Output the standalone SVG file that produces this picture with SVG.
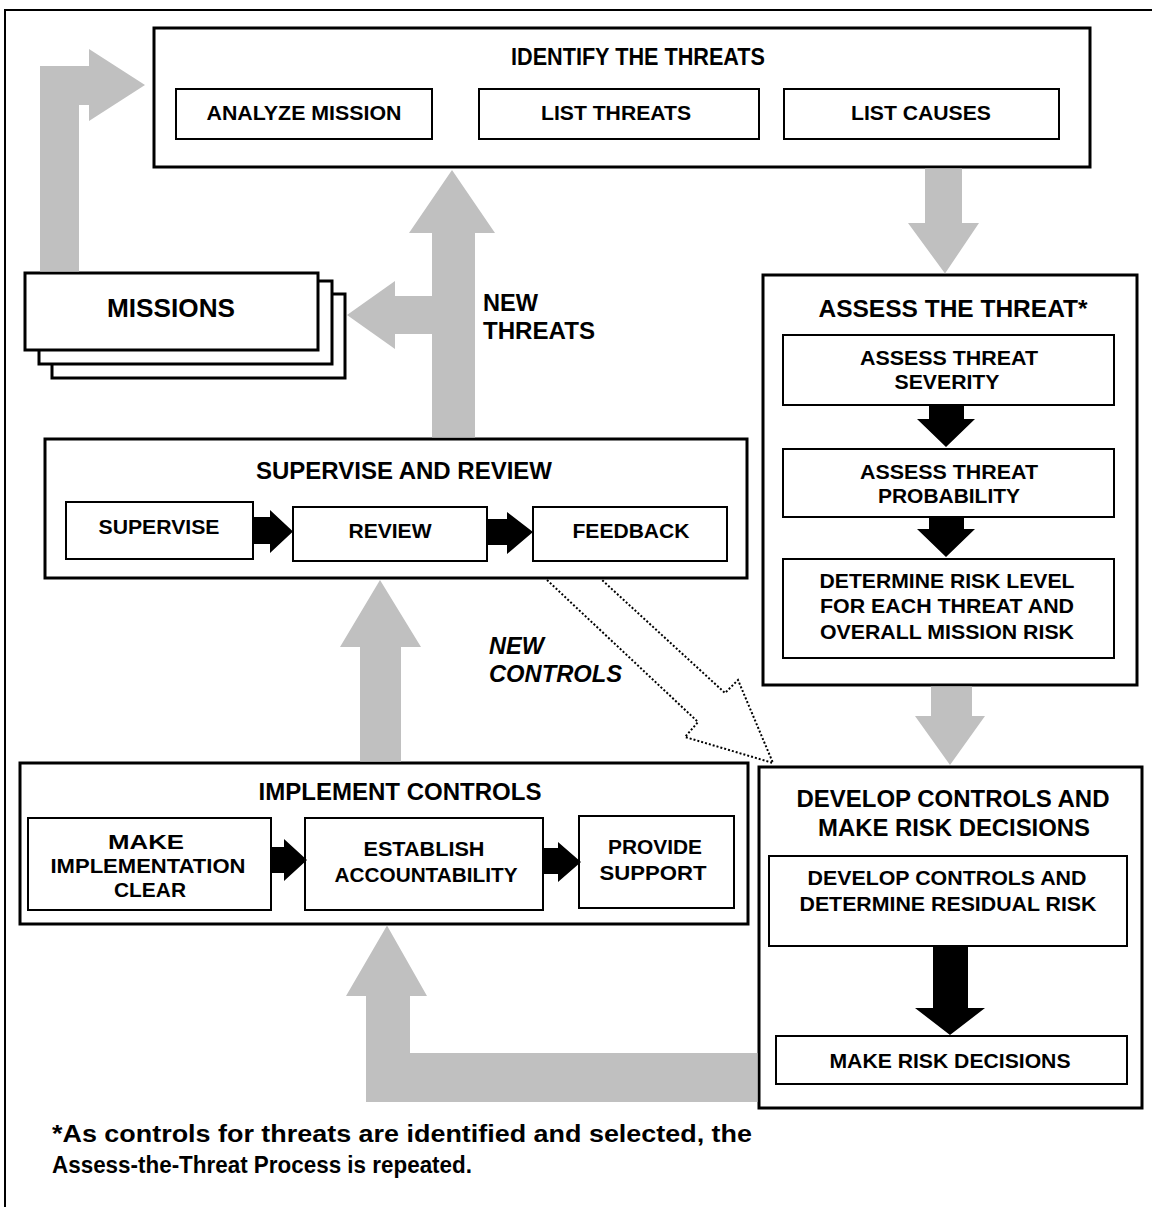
<svg xmlns="http://www.w3.org/2000/svg" width="1152" height="1207" viewBox="0 0 1152 1207">
<style>
text{font-family:"Liberation Sans",Arial,Helvetica,sans-serif;font-weight:bold;fill:#000}
.t{font-size:23.5px;text-anchor:middle}
.s{font-size:21px;text-anchor:middle}
.box{fill:#fff;stroke:#000;stroke-width:3}
.sub{fill:#fff;stroke:#000;stroke-width:2}
.gray{fill:#c0c0c0;stroke:none}
.blk{fill:#000;stroke:none}
.dot{fill:none;stroke:#000;stroke-width:2;stroke-dasharray:2 2}
</style>
<rect x="0" y="0" width="1152" height="1207" fill="#fff"/>
<path d="M5,1207 V10 H1152" fill="none" stroke="#000" stroke-width="2"/>

<g id="identify">
  <rect class="box" x="154" y="28" width="936" height="139"/>
  <text class="t" x="638" y="65" textLength="254" lengthAdjust="spacingAndGlyphs">IDENTIFY THE THREATS</text>
  <rect class="sub" x="176" y="89" width="256" height="50"/>
  <text class="s" x="304" y="120" textLength="195" lengthAdjust="spacingAndGlyphs">ANALYZE MISSION</text>
  <rect class="sub" x="479" y="89" width="280" height="50"/>
  <text class="s" x="616" y="120" textLength="150" lengthAdjust="spacingAndGlyphs">LIST THREATS</text>
  <rect class="sub" x="784" y="89" width="275" height="50"/>
  <text class="s" x="921" y="120" textLength="140" lengthAdjust="spacingAndGlyphs">LIST CAUSES</text>
</g>

<g id="missions">
  <rect class="box" x="52" y="294" width="293" height="84"/>
  <rect class="box" x="39" y="281" width="293" height="83"/>
  <rect class="box" x="25" y="273" width="293" height="77"/>
  <text x="171" y="317" font-size="26" text-anchor="middle" textLength="128" lengthAdjust="spacingAndGlyphs">MISSIONS</text>
</g>

<g id="supervise">
  <rect class="box" x="45" y="439" width="702" height="139"/>
  <text class="t" x="404" y="479" textLength="296" lengthAdjust="spacingAndGlyphs">SUPERVISE AND REVIEW</text>
  <rect class="sub" x="66" y="502" width="187" height="57"/>
  <text class="s" x="159" y="534" textLength="121" lengthAdjust="spacingAndGlyphs">SUPERVISE</text>
  <rect class="sub" x="293" y="507" width="194" height="54"/>
  <text class="s" x="390" y="538" textLength="83" lengthAdjust="spacingAndGlyphs">REVIEW</text>
  <rect class="sub" x="533" y="507" width="194" height="54"/>
  <text class="s" x="631" y="538" textLength="117" lengthAdjust="spacingAndGlyphs">FEEDBACK</text>
</g>

<g id="assess">
  <rect class="box" x="763" y="275" width="374" height="410"/>
  <text class="t" x="953" y="317" textLength="269" lengthAdjust="spacingAndGlyphs">ASSESS THE THREAT*</text>
  <rect class="sub" x="783" y="335" width="331" height="70"/>
  <text class="s" x="949" y="365" textLength="178" lengthAdjust="spacingAndGlyphs">ASSESS THREAT</text>
  <text class="s" x="947" y="389" textLength="105" lengthAdjust="spacingAndGlyphs">SEVERITY</text>
  <rect class="sub" x="783" y="449" width="331" height="68"/>
  <text class="s" x="949" y="479" textLength="178" lengthAdjust="spacingAndGlyphs">ASSESS THREAT</text>
  <text class="s" x="949" y="503" textLength="142" lengthAdjust="spacingAndGlyphs">PROBABILITY</text>
  <rect class="sub" x="783" y="559" width="331" height="99"/>
  <text class="s" x="947" y="588" textLength="255" lengthAdjust="spacingAndGlyphs">DETERMINE RISK LEVEL</text>
  <text class="s" x="947" y="613" textLength="254" lengthAdjust="spacingAndGlyphs">FOR EACH THREAT AND</text>
  <text class="s" x="947" y="639" textLength="254" lengthAdjust="spacingAndGlyphs">OVERALL MISSION RISK</text>
</g>

<g id="develop">
  <rect class="box" x="759" y="767" width="383" height="341"/>
  <text class="t" x="953" y="807" textLength="313" lengthAdjust="spacingAndGlyphs">DEVELOP CONTROLS AND</text>
  <text class="t" x="954" y="836" textLength="272" lengthAdjust="spacingAndGlyphs">MAKE RISK DECISIONS</text>
  <rect class="sub" x="769" y="856" width="358" height="90"/>
  <text class="s" x="947" y="885" textLength="279" lengthAdjust="spacingAndGlyphs">DEVELOP CONTROLS AND</text>
  <text class="s" x="948" y="911" textLength="297" lengthAdjust="spacingAndGlyphs">DETERMINE RESIDUAL RISK</text>
  <rect class="sub" x="776" y="1036" width="351" height="48"/>
  <text class="s" x="950" y="1068" textLength="241" lengthAdjust="spacingAndGlyphs">MAKE RISK DECISIONS</text>
</g>

<g id="implement">
  <rect class="box" x="20" y="763" width="728" height="161"/>
  <text class="t" x="400" y="800" textLength="283" lengthAdjust="spacingAndGlyphs">IMPLEMENT CONTROLS</text>
  <rect class="sub" x="28" y="818" width="243" height="92"/>
  <text class="s" x="146" y="849" textLength="76" lengthAdjust="spacingAndGlyphs">MAKE</text>
  <text class="s" x="148" y="873" textLength="195" lengthAdjust="spacingAndGlyphs">IMPLEMENTATION</text>
  <text class="s" x="150" y="897" textLength="72" lengthAdjust="spacingAndGlyphs">CLEAR</text>
  <rect class="sub" x="305" y="818" width="238" height="92"/>
  <text class="s" x="424" y="856" textLength="121" lengthAdjust="spacingAndGlyphs">ESTABLISH</text>
  <text class="s" x="426" y="882" textLength="183" lengthAdjust="spacingAndGlyphs">ACCOUNTABILITY</text>
  <rect class="sub" x="579" y="816" width="155" height="92"/>
  <text class="s" x="655" y="854" textLength="94" lengthAdjust="spacingAndGlyphs">PROVIDE</text>
  <text class="s" x="653" y="880" textLength="107" lengthAdjust="spacingAndGlyphs">SUPPORT</text>
</g>

<g id="connectors">
  <polygon class="gray" points="40,271.5 40,66 89,66 89,49 145,85 89,121 89,105 79,105 79,271.5"/>
  <polygon class="gray" points="432,437.5 432,334 395,334 395,349 347,315 395,281 395,296 432,296 432,233 409,233 452,170 495,233 475,233 475,437.5"/>
  <polygon class="gray" points="925,168.5 962,168.5 962,223 979,223 945,273.5 908,223 925,223"/>
  <polygon class="gray" points="931,686.5 972,686.5 972,716 985,716 950,765 915,716 931,716"/>
  <polygon class="gray" points="360,761.5 360,647 340,647 380,580 421,647 401,647 401,761.5"/>
  <polygon class="gray" points="757.5,1053 410,1053 410,996 427,996 387,925.5 346,996 366,996 366,1102 757.5,1102"/>
  <polygon class="blk" points="253,517 270,517 270,510 293,531.5 270,553 270,544 253,544"/>
  <polygon class="blk" points="487,519 507,519 507,512 533,532 507,554 507,545 487,545"/>
  <polygon class="blk" points="929,405 964,405 964,419 975,419 946,447 917,419 929,419"/>
  <polygon class="blk" points="929,517 964,517 964,529 975,529 946,557 917,529 929,529"/>
  <polygon class="blk" points="933,946 968,946 968,1008 985,1008 950,1035 915,1008 933,1008"/>
  <polygon class="blk" points="272,847 284,847 284,839 307,860 284,881 284,873 272,873"/>
  <polygon class="blk" points="544,848 558,848 558,842 581,862 558,882 558,874 544,874"/>
  <polyline class="dot" points="547,580 698,722 685,737 773,763 738,680 725,693 602,580"/>
  <text x="483" y="311" font-size="23" textLength="55" lengthAdjust="spacingAndGlyphs">NEW</text>
  <text x="483" y="339" font-size="23" textLength="112" lengthAdjust="spacingAndGlyphs">THREATS</text>
  <text x="489" y="654" font-size="23" font-style="italic" textLength="55" lengthAdjust="spacingAndGlyphs">NEW</text>
  <text x="489" y="682" font-size="23" font-style="italic" textLength="133" lengthAdjust="spacingAndGlyphs">CONTROLS</text>
</g>

<g id="footnote">
  <text x="52" y="1142" font-size="23" textLength="700" lengthAdjust="spacingAndGlyphs">*As controls for threats are identified and selected, the</text>
  <text x="52" y="1173" font-size="23" textLength="420" lengthAdjust="spacingAndGlyphs">Assess-the-Threat Process is repeated.</text>
</g>
</svg>
